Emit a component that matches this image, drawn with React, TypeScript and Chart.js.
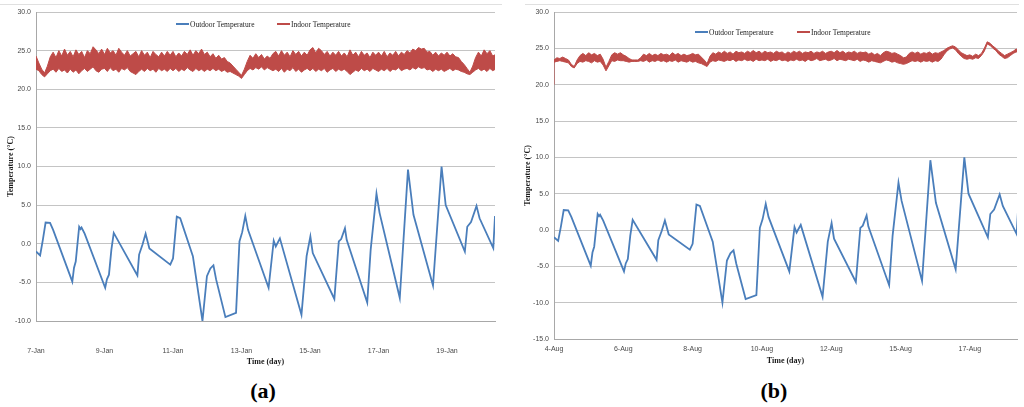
import React, { useEffect, useRef } from 'react';
import { Chart, registerables } from 'chart.js';
Chart.register(...registerables);

// ---------- data ----------
const seriesNames = ['Outdoor Temperature', 'Indoor Temperature'];

// outdoor temperature vertices: day offset from first label, value (°C)
const outdoorDays = [
  0.0, 0.12, 0.2, 0.28, 0.41, 0.5, 1.06, 1.11, 1.16, 1.26, 1.3, 1.33, 1.42, 2.02, 2.07, 2.13, 2.2, 2.27,
  2.96, 3.01, 3.11, 3.2, 3.31, 3.92, 4.0, 4.11, 4.21, 4.58, 4.86, 4.99, 5.09, 5.18, 5.26, 5.53, 5.84,
  5.94, 6.02, 6.11, 6.19, 6.79, 6.94, 7.0, 7.12, 7.75, 7.9, 8.01, 8.08, 8.71, 8.84, 8.91, 9.02, 9.07,
  9.67, 9.77, 9.94, 10.03, 10.62, 10.86, 11.02, 11.59, 11.84, 11.96, 12.52, 12.59, 12.7, 12.86, 12.95,
  13.35, 13.4,
];
const outdoorTemp = [
  -1.0, -1.5, 0.5, 2.75, 2.7, 1.8, -4.9, -3.1, -2.3, 2.2, 1.9, 2.1, 1.3, -5.7, -4.6, -4.0, -0.8, 1.4,
  -4.1, -1.4, -0.1, 1.3, -0.6, -2.7, -1.9, 3.5, 3.3, -1.6, -10.0, -4.2, -3.2, -2.8, -4.65, -9.5, -8.95,
  0.3, 1.5, 3.6, 1.8, -5.7, 0.4, -0.35, 0.7, -9.2, -1.6, 0.95, -1.2, -7.15, 0.3, 0.6, 2.0, 0.5,
  -7.6, -0.8, 6.5, 4.0, -7.0, 9.6, 3.75, -5.4, 10.0, 5.0, -1.0, 2.2, 2.8, 4.9, 3.3,
  -0.56, 3.6,
];

// indoor temperature band (upper / lower edge of the fast oscillation), every 2 hours
const indoorStepDays = 1 / 12;
const indoorHighA = [
  24.3, 23.4, 22.6, 22.1, 23.0, 24.2, 24.8, 24.1, 25.0, 24.3, 25.2, 24.4,
  24.9, 24.2, 25.1, 24.5, 24.9, 24.1, 25.0, 24.6, 25.5, 25.1, 24.6, 25.2,
  24.5, 25.3, 24.7, 25.0, 24.4, 25.3, 24.8, 24.4, 25.0, 24.3, 24.6, 24.9,
  24.2, 25.0, 24.4, 24.8, 24.1, 24.9, 24.5, 24.2, 24.8, 24.3, 24.9, 24.4,
  24.9, 24.2, 24.7, 24.3, 24.9, 24.5, 25.1, 24.4, 25.0, 24.6, 25.2, 24.5,
  24.8, 24.2, 24.6, 24.0, 24.4, 23.9, 24.1, 23.6, 23.4, 23.0, 22.6, 22.2,
  21.8, 22.6, 23.6, 24.4, 24.0, 24.6, 24.1, 24.5, 23.9, 24.3, 24.0, 24.6,
  24.9, 24.3, 25.0, 24.4, 24.8, 24.2, 25.0, 24.5, 24.9, 24.3, 24.8, 24.4,
  25.1, 25.4, 24.7, 25.3, 25.0, 24.5, 24.9, 24.3, 24.8, 24.4, 24.9, 24.3,
  24.7, 24.2, 25.1, 24.4, 24.8, 24.2, 24.9, 24.4, 24.7, 24.1, 24.8, 24.4,
  24.8, 24.3, 24.9, 24.2, 24.7, 24.4, 24.9, 24.3, 24.8, 24.5, 25.0, 24.7,
  25.2, 25.0, 25.4, 25.2, 25.3, 24.8, 24.9, 24.4, 24.8, 24.3, 24.7, 24.4,
  24.8, 24.3, 24.6, 24.2, 24.1, 23.6, 23.2, 22.7, 22.2, 23.0, 24.1, 24.8,
  24.3, 25.1, 24.6, 25.0, 24.3, 24.5,
];
const indoorLowA = [
  22.6, 22.4, 21.9, 21.6, 22.0, 22.4, 22.6, 22.2, 22.7, 22.3, 22.5, 22.1,
  22.6, 22.2, 22.5, 22.0, 22.4, 22.7, 22.3, 22.6, 22.9, 22.4, 22.2, 22.6,
  22.7, 22.3, 22.8, 22.4, 22.6, 22.2, 22.7, 22.5, 22.8, 22.3, 22.1, 21.9,
  22.3, 22.6, 22.3, 22.7, 22.4, 22.6, 22.2, 22.7, 22.4, 22.6, 22.3, 22.7,
  22.4, 22.7, 22.3, 22.6, 22.4, 22.8, 22.5, 22.3, 22.7, 22.4, 22.6, 22.3,
  22.6, 22.4, 22.7, 22.4, 22.6, 22.3, 22.5, 22.2, 22.3, 22.1, 21.9, 21.7,
  21.4, 21.9, 22.4, 22.7, 22.5, 22.8, 22.6, 22.9, 22.5, 22.8, 22.6, 22.4,
  22.6, 22.3, 22.7, 22.2, 22.6, 22.4, 22.8, 22.3, 22.6, 22.2, 22.5, 22.7,
  22.4, 22.7, 22.3, 22.6, 22.4, 22.7, 22.2, 22.5, 22.7, 22.3, 22.6, 22.4,
  22.6, 22.3, 21.9, 22.2, 22.5, 22.3, 22.7, 22.4, 22.6, 22.3, 22.7, 22.5,
  22.3, 22.6, 22.4, 22.7, 22.3, 22.6, 22.5, 22.8, 22.4, 22.6, 22.7, 22.5,
  22.8, 22.6, 22.9, 22.7, 22.8, 22.5, 22.6, 22.3, 22.6, 22.4, 22.6, 22.3,
  22.5, 22.7, 22.4, 22.6, 22.5, 22.3, 22.2, 22.0, 21.9, 22.2, 22.5, 22.7,
  22.4, 22.6, 22.3, 22.7, 22.4, 22.6,
];
const indoorStartB = 20.0;
const indoorHighB = [
  23.4, 23.7, 23.6, 23.8, 23.6, 23.4, 22.8, 22.5, 23.4, 24.0, 24.3, 24.0,
  24.4, 24.1, 24.3, 24.0, 24.2, 23.5, 22.4, 23.2, 24.1, 24.4, 24.2, 24.4,
  24.1, 23.9, 23.6, 23.4, 23.4, 23.4, 23.7, 24.2, 24.0, 24.3, 24.0, 24.2,
  24.0, 24.3, 24.1, 24.2, 24.0, 24.4, 24.1, 24.3, 24.0, 24.2, 24.0, 24.1,
  24.3, 24.1, 24.2, 23.8, 23.4, 22.9, 23.9, 24.4, 24.2, 24.5, 24.3, 24.6,
  24.3, 24.5, 24.2, 24.6, 24.4, 24.5, 24.3, 24.6, 24.4, 24.7, 24.4, 24.6,
  24.3, 24.6, 24.4, 24.5, 24.3, 24.6, 24.4, 24.5, 24.2, 24.5, 24.3, 24.6,
  24.4, 24.6, 24.3, 24.5, 24.4, 24.6, 24.3, 24.5, 24.4, 24.6, 24.3, 24.5,
  24.6, 24.4, 24.7, 24.4, 24.6, 24.3, 24.5, 24.4, 24.6, 24.3, 24.5, 24.4,
  24.5, 24.2, 24.4, 24.1, 24.3, 24.0, 24.4, 24.6, 24.5, 24.3, 24.4, 24.2,
  24.0, 23.7, 23.8, 24.3, 24.5, 24.3, 24.5, 24.2, 24.4, 24.3, 24.5, 24.2,
  24.4, 24.3, 24.5, 24.7, 25.0, 25.2, 25.35, 25.2, 24.8, 24.4, 24.2, 24.0,
  24.1, 23.9, 24.2, 24.0, 24.3, 25.0, 25.9, 25.7, 25.3, 25.0, 24.6, 24.3,
  24.0, 24.2, 24.4, 24.6, 24.9, 24.8,
];
const indoorLowB = [
  23.1, 23.2, 23.3, 23.2, 23.1, 23.0, 22.5, 22.3, 22.9, 23.2, 23.1, 23.3,
  23.2, 23.0, 23.3, 23.1, 23.2, 22.7, 21.9, 22.6, 23.3, 23.2, 23.4, 23.3,
  23.3, 23.2, 23.1, 23.2, 23.2, 23.2, 23.3, 23.2, 23.4, 23.1, 23.3, 23.2,
  23.4, 23.2, 23.3, 23.1, 23.3, 23.2, 23.4, 23.1, 23.3, 23.2, 23.1, 23.3,
  23.1, 23.2, 23.0, 22.9, 22.7, 22.5, 23.1, 23.3, 23.2, 23.4, 23.3, 23.2,
  23.4, 23.3, 23.5, 23.2, 23.4, 23.3, 23.5, 23.3, 23.4, 23.2, 23.5, 23.3,
  23.4, 23.3, 23.5, 23.2, 23.4, 23.3, 23.5, 23.3, 23.4, 23.2, 23.4, 23.3,
  23.5, 23.3, 23.4, 23.2, 23.5, 23.3, 23.4, 23.6, 23.3, 23.4, 23.5, 23.3,
  23.4, 23.6, 23.3, 23.5, 23.4, 23.3, 23.5, 23.4, 23.3, 23.5, 23.2, 23.4,
  23.3, 23.1, 23.3, 23.2, 23.1, 23.0, 23.2, 23.4, 23.3, 23.1, 23.2, 23.0,
  22.9, 22.8, 22.9, 23.1, 23.3, 23.2, 23.3, 23.1, 23.3, 23.2, 23.3, 23.1,
  23.3, 23.2, 23.5, 24.1, 24.6, 24.9, 25.05, 24.8, 24.3, 23.9, 23.6, 23.5,
  23.6, 23.5, 23.7, 23.6, 24.0, 24.6, 25.6, 25.4, 25.0, 24.7, 24.2, 23.9,
  23.6, 23.7, 24.0, 24.3, 24.5, 24.5,
];

const xTickDays = [0, 2, 4, 6, 8, 10, 12];
const xTickLabelsA = ['7-Jan', '9-Jan', '11-Jan', '13-Jan', '15-Jan', '17-Jan', '19-Jan'];
const xTickLabelsB = ['4-Aug', '6-Aug', '8-Aug', '10-Aug', '12-Aug', '15-Aug', '17-Aug'];

// ---------- styles ----------
const BLUE = '#4a7ebb';
const RED = '#be4b48';
const GRID = '#c4c4c4';
const AXIS = '#a8a8a8';
const SANS = '"Liberation Sans", Arial, sans-serif';
const SERIF = '"Liberation Serif", "Times New Roman", serif';

type PanelProps = {
  left: number; width: number; height: number;
  yMin: number; yMax: number; xMax: number;
  labels: string[]; hi: number[]; lo: number[]; start?: number;
  yW: number; xH: number; xTickPad: number; yTitlePad: number; padRight: number;
};

function Panel(p: PanelProps) {
  const ref = useRef<HTMLCanvasElement | null>(null);
  useEffect(() => {
    if (!ref.current) return;
    const outdoor = outdoorDays.map((d, i) => ({ x: d, y: outdoorTemp[i] }));
    const hiPts = p.hi.map((v, i) => ({ x: i * indoorStepDays, y: v }));
    if (p.start !== undefined) hiPts.unshift({ x: 0, y: p.start });
    const loPts = p.lo.map((v, i) => ({ x: i * indoorStepDays, y: v }));
    const chart = new Chart(ref.current, {
      type: 'line',
      data: {
        datasets: [
          { label: seriesNames[0], data: outdoor, borderColor: BLUE, backgroundColor: BLUE, borderWidth: 1.8, pointRadius: 0, tension: 0, fill: false },
          { label: seriesNames[1], data: hiPts, borderColor: RED, backgroundColor: RED, borderWidth: 1, pointRadius: 0, tension: 0, fill: false },
          { label: 'lo', data: loPts, borderColor: RED, backgroundColor: RED, borderWidth: 1, pointRadius: 0, tension: 0, fill: '-1' },
        ],
      },
      options: {
        responsive: false,
        animation: false,
        events: [],
        layout: { padding: { left: 0, top: 12, right: p.padRight, bottom: 0 } },
        plugins: { legend: { display: false }, tooltip: { enabled: false } },
        scales: {
          x: {
            type: 'linear', min: 0, max: p.xMax,
            afterBuildTicks: (s: any) => { s.ticks = xTickDays.map((v) => ({ value: v })); },
            afterFit: (s: any) => { s.height = p.xH; },
            ticks: {
              callback: (v: any) => p.labels[xTickDays.indexOf(Number(v))] ?? '',
              font: { family: SANS, size: 7 }, color: '#4a4a4a', padding: p.xTickPad,
              maxRotation: 0, autoSkip: false,
            },
            grid: { display: false, drawTicks: false },
            border: { color: AXIS, width: 1 },
            title: { display: true, text: 'Time (day)', font: { family: SERIF, size: 8, weight: 'bold' }, color: '#1a1a1a', padding: { top: 0, bottom: 1.2 } },
          },
          y: {
            min: p.yMin, max: p.yMax,
            afterFit: (s: any) => { s.width = p.yW; },
            ticks: { stepSize: 5, callback: (v: any) => Number(v).toFixed(1), font: { family: SANS, size: 7 }, color: '#4a4a4a', padding: 5 },
            grid: { color: GRID, drawTicks: false },
            border: { color: AXIS, width: 1 },
            title: { display: true, text: 'Temperature (°C)', font: { family: SERIF, size: 8, weight: 'bold' }, color: '#1a1a1a', padding: { top: p.yTitlePad, bottom: 0 } },
          },
        },
      } as any,
    });
    return () => chart.destroy();
  }, []);
  return (
    <canvas ref={ref} width={p.width} height={p.height}
      style={{ position: 'absolute', left: p.left, top: 0, width: p.width, height: p.height }} />
  );
}

function LegendItem({ x, y, color, text }: { x: number; y: number; color: string; text: string }) {
  return (
    <div style={{ position: 'absolute', left: x, top: y - 6, height: 12, display: 'flex', alignItems: 'center', whiteSpace: 'nowrap' }}>
      <div style={{ width: 13, height: 2, background: color, marginRight: 1 }} />
      <span style={{ fontFamily: SERIF, fontSize: 7.5, color: '#222' }}>{text}</span>
    </div>
  );
}

function Caption({ cx, text }: { cx: number; text: string }) {
  return (
    <div style={{ position: 'absolute', left: cx - 40, top: 378, width: 80, textAlign: 'center', fontFamily: SERIF, fontWeight: 'bold', fontSize: 22, lineHeight: '26px', color: '#000' }}>
      {text}
    </div>
  );
}

export default function App() {
  return (
    <div style={{ position: 'absolute', left: 0, top: 0, width: 1024, height: 407, background: '#fff', overflow: 'hidden' }}>
      <div style={{ position: 'absolute', left: 0, top: 4, width: 502, height: 1, background: '#e0e0e0' }} />
      <div style={{ position: 'absolute', left: 525, top: 4, width: 494, height: 1, background: '#e0e0e0' }} />
      <Panel left={0} width={502} height={368} yMin={-10} yMax={30} xMax={13.4}
        labels={xTickLabelsA} hi={indoorHighA} lo={indoorLowA}
        yW={36} xH={47} xTickPad={26} yTitlePad={6.2} padRight={7} />
      <Panel left={516} width={507} height={367} yMin={-15} yMax={30} xMax={13.36}
        labels={xTickLabelsB} hi={indoorHighB} lo={indoorLowB} start={indoorStartB}
        yW={38} xH={28} xTickPad={6} yTitlePad={6.7} padRight={6} />
      <LegendItem x={176} y={24} color={BLUE} text={seriesNames[0]} />
      <LegendItem x={277} y={24} color={RED} text={seriesNames[1]} />
      <LegendItem x={695} y={32} color={BLUE} text={seriesNames[0]} />
      <LegendItem x={797} y={32} color={RED} text={seriesNames[1]} />
      <Caption cx={263} text="(a)" />
      <Caption cx={774} text="(b)" />
    </div>
  );
}
